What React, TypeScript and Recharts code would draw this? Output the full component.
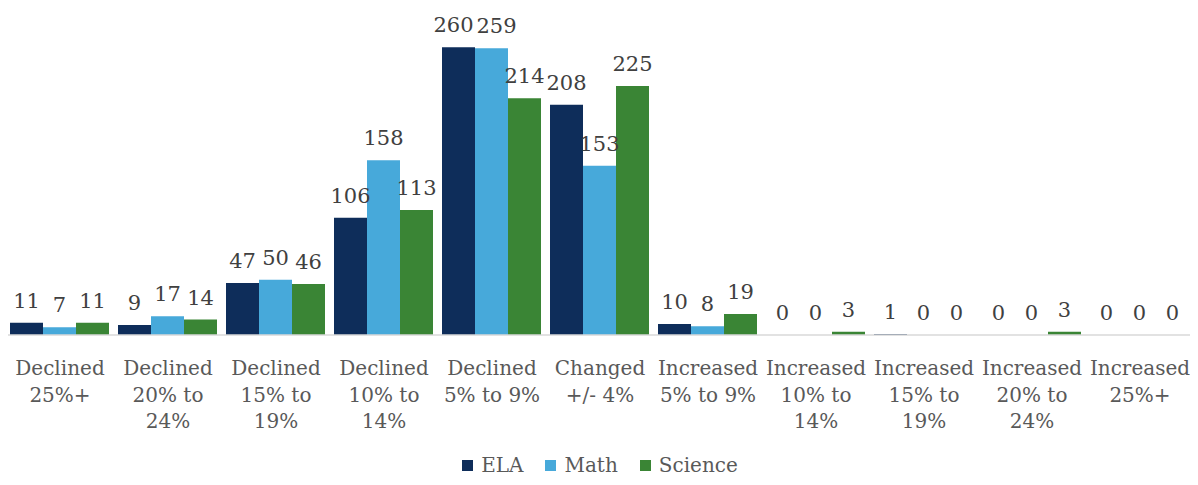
import { BarChart, Bar, XAxis, YAxis, Legend, LabelList } from "recharts";

const categories = [
  "Declined\n25%+",
  "Declined\n20% to\n24%",
  "Declined\n15% to\n19%",
  "Declined\n10% to\n14%",
  "Declined\n5% to 9%",
  "Changed\n+/- 4%",
  "Increased\n5% to 9%",
  "Increased\n10% to\n14%",
  "Increased\n15% to\n19%",
  "Increased\n20% to\n24%",
  "Increased\n25%+",
];
const ela = [11, 9, 47, 106, 260, 208, 10, 0, 1, 0, 0];
const math = [7, 17, 50, 158, 259, 153, 8, 0, 0, 0, 0];
const science = [11, 14, 46, 113, 214, 225, 19, 3, 0, 3, 0];

const series = [
  { key: "ELA", color: "#0E2D5A", values: ela },
  { key: "Math", color: "#47A9DA", values: math },
  { key: "Science", color: "#3A8535", values: science },
];

const data = categories.map((name, i) => ({
  name,
  ELA: ela[i],
  Math: math[i],
  Science: science[i],
}));

const FONT = "'DejaVu Serif', serif";
const LABEL_SIZE = 21;
const Y_MAX = 300;

function WrappedTick(props: any) {
  const { x, y, payload } = props;
  const lines = String(payload.value).split("\n");
  return (
    <text x={x} y={y} textAnchor="middle" fill="#595959" fontSize={20} fontFamily={FONT}>
      {lines.map((line, i) => (
        <tspan key={i} x={x} dy={i === 0 ? 32 : 26.5}>
          {line}
        </tspan>
      ))}
    </text>
  );
}

// value above each bar (zeros too); nudges apart labels of neighbouring bars that would collide
function makeLabel(seriesIdx: number) {
  return function ValueLabel(props: any) {
    const { x, y, width, height, index, value } = props;
    const v = Number(value);
    const base = y + height;
    const pxPerUnit = v > 0 ? height / v : null;
    const textW = (n: number) => String(n).length * LABEL_SIZE * 0.62;
    let shift = 0;
    if (pxPerUnit) {
      [-1, 1].forEach((dir) => {
        const other = series[seriesIdx + dir];
        if (!other) return;
        const ov = other.values[index];
        const oy = base - ov * pxPerUnit;
        if (Math.abs(oy - y) > LABEL_SIZE * 0.7) return;
        const overlap = (textW(v) + textW(ov)) / 2 + 4 - width;
        if (overlap > 0) shift -= dir * (overlap / 2);
      });
    }
    return (
      <text
        x={x + width / 2 + shift}
        y={base - (v > 0 ? height : 0) - 15}
        textAnchor="middle"
        fill="#404040"
        fontSize={LABEL_SIZE}
        fontFamily={FONT}
      >
        {String(value)}
      </text>
    );
  };
}

function LegendRow() {
  return (
    <div
      style={{
        display: "flex",
        justifyContent: "center",
        gap: 22,
        paddingTop: 2,
        lineHeight: "20px",
        fontFamily: FONT,
        fontSize: 20,
        color: "#595959",
      }}
    >
      {series.map((s) => (
        <div key={s.key} style={{ display: "flex", alignItems: "center" }}>
          <span style={{ width: 11, height: 11, background: s.color, marginRight: 8, display: "inline-block" }} />
          {s.key}
        </div>
      ))}
    </div>
  );
}

export default function App() {
  return (
    <div style={{ margin: -8 }}>
      <BarChart
        width={1198}
        height={485}
        data={data}
        margin={{ top: 3, right: 4, left: 6, bottom: 0 }}
        barGap={0}
        barCategoryGap={4}
      >
        <XAxis
          dataKey="name"
          interval={0}
          tickLine={false}
          axisLine={{ stroke: "#d9d9d9", strokeWidth: 1.5 }}
          tick={<WrappedTick />}
          height={118}
        />
        <YAxis hide domain={[0, Y_MAX]} />
        <Legend verticalAlign="bottom" height={32} content={<LegendRow />} />
        {series.map((s, si) => {
          const Lbl = makeLabel(si);
          return (
            <Bar
              key={s.key}
              dataKey={s.key}
              fill={s.color}
              minPointSize={0.01}
              isAnimationActive={false}
            >
              <LabelList dataKey={(d: any) => String(d[s.key])} content={<Lbl />} />
            </Bar>
          );
        })}
      </BarChart>
    </div>
  );
}
